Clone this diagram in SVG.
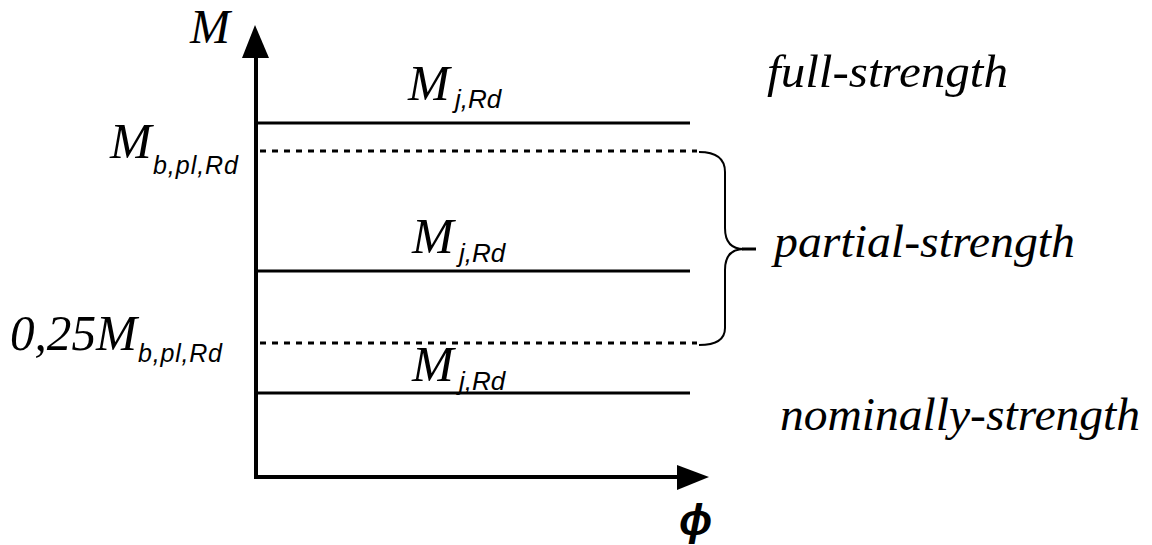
<svg xmlns="http://www.w3.org/2000/svg" width="1152" height="545" viewBox="0 0 1152 545">
<style>
.serif{font-family:"Liberation Serif","Times New Roman",serif;font-style:italic;fill:#000}
.sans{font-family:"Liberation Sans",Arial,sans-serif;font-style:italic;fill:#000}
.solid{stroke:#000;stroke-width:3;fill:none}
.dot{stroke:#000;stroke-width:3;stroke-dasharray:6 6;fill:none}
.axis{stroke:#000;stroke-width:4;fill:none}
</style>
<rect width="1152" height="545" fill="#fff"/>
<g id="connectors">
  <line class="axis" x1="256" y1="479" x2="256" y2="55"/>
  <polygon points="255,25 242,58 269,58" fill="#000"/>
  <line class="axis" x1="254" y1="477" x2="680" y2="477"/>
  <polygon points="709,477 677,465 677,490" fill="#000"/>
  <line class="solid" x1="258" y1="123" x2="690" y2="123"/>
  <line class="dot" x1="260" y1="151" x2="697" y2="151"/>
  <line class="solid" x1="258" y1="271" x2="690" y2="271"/>
  <line class="dot" x1="260" y1="343" x2="697" y2="343"/>
  <line class="solid" x1="258" y1="393" x2="690" y2="393"/>
  <path d="M699,152 C716,152 725,158 725,172 L725,228 C725,242 732,249 744,249 C732,249 725,256 725,270 L725,328 C725,340 716,345 699,345" stroke="#000" stroke-width="2" fill="none"/>
  <line x1="742" y1="249" x2="756" y2="249" stroke="#000" stroke-width="3"/>
</g>
<g id="axis-M"><text class="serif" x="190" y="43" font-size="48">M</text></g>
<g id="axis-phi"><text class="sans" x="679" y="535" font-size="44" font-weight="bold">ϕ</text></g>
<g id="label-Mj1"><text class="serif" x="408" y="100" font-size="50">M</text><text class="sans" x="455" y="108" font-size="26">j,Rd</text></g>
<g id="label-Mj2"><text class="serif" x="412" y="253" font-size="50">M</text><text class="sans" x="459" y="262" font-size="26">j,Rd</text></g>
<g id="label-Mj3"><text class="serif" x="412" y="381" font-size="50">M</text><text class="sans" x="459" y="390" font-size="26">j,Rd</text></g>
<g id="label-Mbpl"><text class="serif" x="110" y="158" font-size="50">M</text><text class="sans" x="153" y="174" font-size="25" textLength="85" lengthAdjust="spacing">b,pl,Rd</text></g>
<g id="label-025Mbpl"><text class="serif" x="10" y="350" font-size="50" textLength="127" lengthAdjust="spacingAndGlyphs">0,25M</text><text class="sans" x="138" y="362" font-size="25" textLength="84" lengthAdjust="spacing">b,pl,Rd</text></g>
<g id="full-strength"><text class="serif" x="767" y="87" font-size="47" textLength="241" lengthAdjust="spacingAndGlyphs">full-strength</text></g>
<g id="partial-strength"><text class="serif" x="774" y="257" font-size="47" textLength="301" lengthAdjust="spacingAndGlyphs">partial-strength</text></g>
<g id="nominally-strength"><text class="serif" x="780" y="430" font-size="47" textLength="360" lengthAdjust="spacingAndGlyphs">nominally-strength</text></g>
</svg>
